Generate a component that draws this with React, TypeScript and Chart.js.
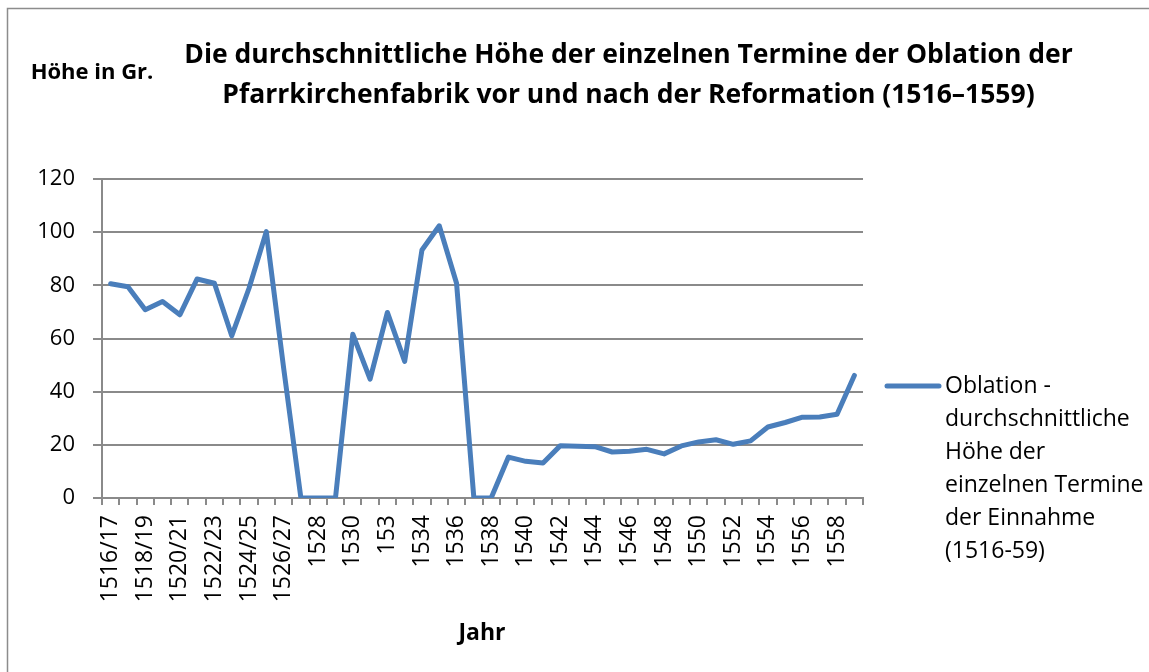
import React, { useEffect, useRef } from "react";
import { Chart, registerables } from "chart.js";

Chart.register(...registerables);

const categories: string[] = [
  "1516/17", "1517/18", "1518/19", "1519/20", "1520/21", "1521/22", "1522/23", "1523/24",
  "1524/25", "1525/26", "1526/27", "1527", "1528", "1529", "1530", "1531", "153", "1533",
  "1534", "1535", "1536", "1537", "1538", "1539", "1540", "1541", "1542", "1543", "1544",
  "1545", "1546", "1547", "1548", "1549", "1550", "1551", "1552", "1553", "1554", "1555",
  "1556", "1557", "1558", "1559",
];

const oblationValues: number[] = [
  80.6, 79.5, 70.8, 73.9, 68.9, 82.4, 80.8, 61.0, 78.9, 100.2, 49, 0, 0, 0, 61.6, 44.7,
  69.8, 51.4, 93.3, 102.4, 80.8, 0, 0, 15.4, 13.8, 13.2, 19.7, 19.5, 19.3, 17.3, 17.6,
  18.3, 16.6, 19.6, 21.1, 21.9, 20.2, 21.5, 26.7, 28.4, 30.4, 30.5, 31.5, 46.1,
];

const titleLines: string[] = [
  "Die durchschnittliche Höhe der einzelnen Termine der Oblation der",
  "Pfarrkirchenfabrik vor und nach der Reformation (1516–1559)",
];
const yAxisTitle = "Höhe in Gr.";
const xAxisTitle = "Jahr";
const legendLines: string[] = [
  "Oblation -",
  "durchschnittliche",
  "Höhe der",
  "einzelnen Termine",
  "der Einnahme",
  "(1516-59)",
];

const FONT = "'Open Sans', 'Noto Sans', sans-serif";
const LINE_COLOR = "#4A7EBB";
const GRID_COLOR = "#8a8a8a";

const decorPlugin = {
  id: "decor",
  afterDraw(chart: any) {
    const ctx = chart.ctx as CanvasRenderingContext2D;
    ctx.save();
    // chart-area border (top and left)
    ctx.strokeStyle = "#8c8c8c";
    ctx.lineWidth = 1.5;
    ctx.beginPath();
    ctx.moveTo(7.5, 672);
    ctx.lineTo(7.5, 8.5);
    ctx.lineTo(1149, 8.5);
    ctx.stroke();

    ctx.fillStyle = "#000";
    ctx.textAlign = "center";
    ctx.textBaseline = "middle";
    // title
    ctx.font = `bold 26.5px ${FONT}`;
    ctx.fillText(titleLines[0], 628.5, 55);
    ctx.fillText(titleLines[1], 628.5, 95);
    // y axis title
    ctx.font = `bold 22px ${FONT}`;
    ctx.fillText(yAxisTitle, 92, 73);
    // x axis title
    ctx.font = `bold 23px ${FONT}`;
    ctx.fillText(xAxisTitle, 482, 633);

    // legend
    ctx.strokeStyle = LINE_COLOR;
    ctx.lineWidth = 5;
    ctx.lineCap = "round";
    ctx.beginPath();
    ctx.moveTo(887, 386);
    ctx.lineTo(939, 386);
    ctx.stroke();
    ctx.textAlign = "left";
    ctx.font = `23px ${FONT}`;
    legendLines.forEach((l, i) => ctx.fillText(l, 945, 386 + i * 33));
    ctx.restore();
  },
};

export default function App() {
  const ref = useRef<HTMLCanvasElement | null>(null);
  useEffect(() => {
    if (!ref.current) return;
    const chart = new Chart(ref.current, {
      type: "line",
      data: {
        labels: categories,
        datasets: [
          {
            label: legendLines.join(" "),
            data: oblationValues,
            borderColor: LINE_COLOR,
            backgroundColor: LINE_COLOR,
            borderWidth: 5,
            pointRadius: 0,
            tension: 0,
            borderJoinStyle: "round",
            borderCapStyle: "round",
          },
        ],
      },
      options: {
        animation: false,
        responsive: false,
        layout: { padding: { left: 0, top: 179, right: 286, bottom: 0 } },
        plugins: {
          legend: { display: false },
          title: { display: false },
          tooltip: { enabled: false },
        },
        scales: {
          x: {
            type: "category",
            offset: true,
            grid: {
              offset: true,
              drawOnChartArea: false,
              drawTicks: true,
              tickLength: 7,
              color: GRID_COLOR,
              lineWidth: 2,
            },
            border: { display: true, color: GRID_COLOR, width: 2 },
            ticks: {
              autoSkip: false,
              minRotation: 90,
              maxRotation: 90,
              padding: 10,
              color: "#000",
              font: { family: FONT, size: 23 },
              callback: (_v: any, i: number) => (i % 2 === 0 ? categories[i] : ""),
            },
            afterFit: (s: any) => {
              s.height = 174;
            },
          },
          y: {
            min: 0,
            max: 120,
            grid: { color: GRID_COLOR, lineWidth: 2, tickLength: 9 },
            border: { display: true, color: GRID_COLOR, width: 2 },
            ticks: {
              stepSize: 20,
              padding: 18,
              color: "#000",
              font: { family: FONT, size: 22 },
            },
            afterFit: (s: any) => {
              s.width = 102;
            },
          },
        },
      },
      plugins: [decorPlugin],
    });
    return () => chart.destroy();
  }, []);
  return (
    <div style={{ position: "fixed", left: 0, top: 0, width: 1149, height: 672, background: "#fff" }}>
      <canvas ref={ref} width={1149} height={672} style={{ width: 1149, height: 672 }} />
    </div>
  );
}
